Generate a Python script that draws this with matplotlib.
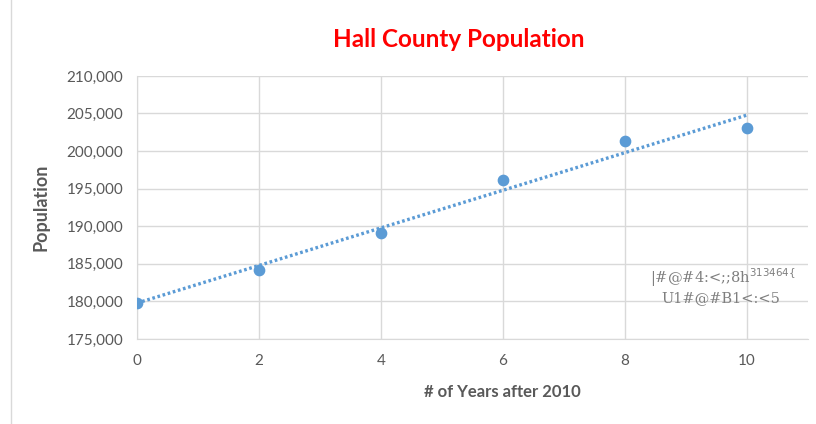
import matplotlib
matplotlib.use("Agg")
import matplotlib.pyplot as plt
import numpy as np

years = [0, 2, 4, 6, 8, 10]
population = [179800, 184200, 189100, 196150, 201350, 203100]
y_ticks = [175000, 180000, 185000, 190000, 195000, 200000, 205000, 210000]
x_ticks = [0, 2, 4, 6, 8, 10]

blue = "#5b9bd5"
gray = "#595959"
grid = "#d9d9d9"

plt.rcParams["font.family"] = ["Lato", "DejaVu Sans"]

fig = plt.figure(figsize=(8.16, 4.24), dpi=100)
ax = fig.add_axes([0.168, 0.2005, 0.822, 0.6205])

# trendline
m, b = np.polyfit(years, population, 1)
tx = np.array([0, 10])
ax.plot(tx, m * tx + b, linestyle=(0, (0.8, 0.8)), color=blue, linewidth=2.4, zorder=2)
ax.scatter(years, population, s=55, color=blue, zorder=3)

ax.set_xlim(0, 11)
ax.set_ylim(175000, 210000)
ax.set_xticks(x_ticks)
ax.set_yticks(y_ticks)
ax.set_yticklabels([f"{v:,}" for v in y_ticks])
ax.grid(True, color=grid, linewidth=1)
ax.set_axisbelow(True)
for s in ["top", "right"]:
    ax.spines[s].set_visible(False)
for s in ["left", "bottom"]:
    ax.spines[s].set_color(grid)
ax.tick_params(length=0, labelsize=11, colors=gray, pad=10)
ax.tick_params(axis="x", pad=11)

ax.set_xlabel("# of Years after 2010", fontsize=12, fontweight="bold", color=gray)
ax.xaxis.set_label_coords(0.544, -0.17)
ax.set_ylabel("Population", fontsize=13, fontweight="bold", color=gray)
ax.yaxis.set_label_coords(-0.13, 0.5)
fig.text(0.562, 0.908, "Hall County Population", ha="center", va="center",
         fontsize=17.5, fontweight="bold", color="red")

# garbled trendline equation as in the original
fig.text(0.797, 0.345, "|#@#4:<;;8h$^{313464\\{}$", fontsize=10.5, color="#7f7f7f",
         family="DejaVu Serif", va="center")
fig.text(0.811, 0.297, "U1#@#B1<:<5", fontsize=10.5, color="#7f7f7f",
         family="DejaVu Serif", va="center")

# outer chart border
fig.add_artist(plt.Line2D([0.014, 0.014], [0.0, 1.0], color=grid, linewidth=1))

fig.savefig("out.png", dpi=100)
